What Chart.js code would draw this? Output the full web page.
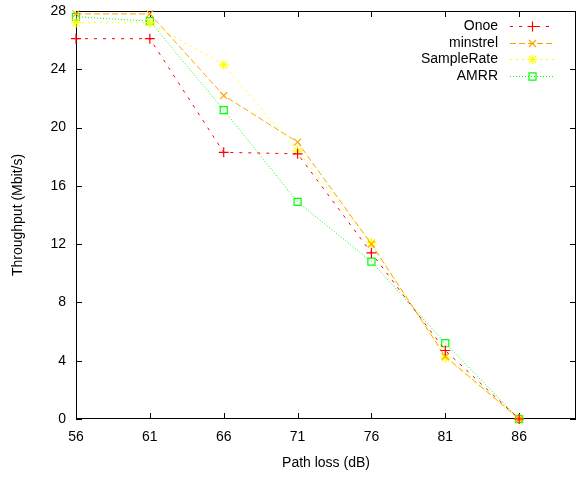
<!DOCTYPE html>
<html>
<head>
<meta charset="utf-8">
<script src="https://cdn.jsdelivr.net/npm/chart.js@4"></script>
<style>
  html, body { margin: 0; padding: 0; background: #fff; }
  #wrap { width: 576px; height: 477px; }
</style>
</head>
<body>
<div id="wrap"><canvas id="chart" width="576" height="477"></canvas></div>
<script>
// Data
const pathLoss = [56, 61, 66, 71, 76, 81, 86];
const xTicks = [56, 61, 66, 71, 76, 81, 86];
const yTicks = [0, 4, 8, 12, 16, 20, 24, 28];
const onoe = [26.1, 26.1, 18.3, 18.2, 11.4, 4.7, 0];
const minstrel = [27.8, 27.8, 22.2, 19.0, 12.0, 4.3, 0];
const sampleRate = [27.2, 27.2, 24.3, 18.4, 12.1, 4.2, 0];
const amrr = [27.6, 27.3, 21.2, 14.9, 10.8, 5.2, 0];

const seriesNames = ['Onoe', 'minstrel', 'SampleRate', 'AMRR'];
const seriesColors = ['#ff0000', '#ffa500', '#ffff00', '#00ff00'];
const seriesDashes = [[3, 6], [6, 3], [2, 4], [1, 2]];
const seriesMarkers = ['cross', 'crossRot', 'star', 'rect'];

const FONT = '"Liberation Sans", Arial, sans-serif';

function toPoints(values) {
    return pathLoss.map((x, i) => ({ x: x, y: values[i] }));
}

function series(i, values) {
    return {
        label: seriesNames[i],
        data: toPoints(values),
        borderColor: seriesColors[i],
        backgroundColor: 'rgba(0,0,0,0)',
        borderWidth: 1,
        borderDash: seriesDashes[i],
        pointStyle: seriesMarkers[i],
        pointRadius: 5,
        pointBorderWidth: 1.2,
        pointBorderColor: seriesColors[i],
        pointBackgroundColor: 'rgba(0,0,0,0)',
        tension: 0,
        fill: false,
        clip: false
    };
}

const datasets = [
    series(0, onoe),
    series(1, minstrel),
    series(2, sampleRate),
    series(3, amrr)
];

// Border box with inward ticks on all four sides, like gnuplot
const frame = {
    id: 'frame',
    beforeDatasetsDraw(chart) {
        const ctx = chart.ctx;
        const a = chart.chartArea;
        const xs = chart.scales.x, ys = chart.scales.y;
        const len = 6;
        ctx.save();
        ctx.strokeStyle = '#000';
        ctx.lineWidth = 1;
        ctx.strokeRect(a.left + 0.5, a.top + 0.5, a.right - a.left - 1, a.bottom - a.top - 1);
        ctx.beginPath();
        xTicks.forEach(v => {
            const px = Math.round(xs.getPixelForValue(v)) + 0.5;
            ctx.moveTo(px, a.bottom); ctx.lineTo(px, a.bottom - len);
            ctx.moveTo(px, a.top); ctx.lineTo(px, a.top + len);
        });
        yTicks.forEach(v => {
            const py = Math.round(ys.getPixelForValue(v)) + 0.5;
            ctx.moveTo(a.left, py); ctx.lineTo(a.left + len, py);
            ctx.moveTo(a.right, py); ctx.lineTo(a.right - len, py);
        });
        ctx.stroke();
        ctx.restore();
    },
    afterDraw(chart) {
        // legend inside the top-right corner: text, then line sample with marker
        const ctx = chart.ctx;
        const a = chart.chartArea;
        const textRight = a.right - 78;
        const x0 = a.right - 66, x1 = a.right - 21;
        ctx.save();
        ctx.font = '14px ' + FONT;
        ctx.textAlign = 'right';
        ctx.textBaseline = 'middle';
        seriesNames.forEach((name, i) => {
            const y = Math.round(a.top + 15 + i * 16.7) + 0.5;
            ctx.fillStyle = '#000';
            ctx.fillText(name, textRight, y);
            ctx.strokeStyle = seriesColors[i];
            ctx.lineWidth = 1;
            ctx.setLineDash(seriesDashes[i]);
            ctx.beginPath();
            ctx.moveTo(x0, y);
            ctx.lineTo(x1, y);
            ctx.stroke();
            ctx.setLineDash([]);
            ctx.strokeStyle = seriesColors[i];
            ctx.fillStyle = 'rgba(0,0,0,0)';
            ctx.lineWidth = 1.2;
            Chart.helpers.drawPoint(ctx, {
                pointStyle: seriesMarkers[i],
                radius: 5,
                borderWidth: 1.2,
                rotation: 0
            }, (x0 + x1) / 2, y);
        });
        ctx.restore();
    }
};

new Chart(document.getElementById('chart'), {
    type: 'line',
    data: { datasets: datasets },
    options: {
        responsive: false,
        animation: false,
        devicePixelRatio: 1,
        layout: { autoPadding: false, padding: { top: 11, right: 0, left: 0, bottom: 0 } },
        plugins: {
            legend: { display: false },
            tooltip: { enabled: false }
        },
        scales: {
            x: {
                type: 'linear',
                min: 56,
                max: 89.85,
                afterBuildTicks: axis => { axis.ticks = xTicks.map(v => ({ value: v })); },
                afterFit: axis => {
                    axis.height = 58;
                    axis.paddingLeft = 0;
                    axis.paddingRight = 0;
                },
                grid: { display: false, drawTicks: false },
                border: { display: false },
                ticks: { color: '#000', font: { family: FONT, size: 14 }, padding: 10, maxRotation: 0 },
                title: {
                    display: true,
                    text: 'Path loss (dB)',
                    color: '#000',
                    font: { family: FONT, size: 14 },
                    padding: { top: 4, bottom: 5 }
                }
            },
            y: {
                min: 0,
                max: 28,
                afterBuildTicks: axis => { axis.ticks = yTicks.map(v => ({ value: v })); },
                afterFit: axis => {
                    axis.width = 76;
                    axis.paddingTop = 0;
                    axis.paddingBottom = 0;
                },
                grid: { display: false, drawTicks: false },
                border: { display: false },
                ticks: { color: '#000', font: { family: FONT, size: 14 }, padding: 10 },
                title: {
                    display: true,
                    text: 'Throughput (Mbit/s)',
                    color: '#000',
                    font: { family: FONT, size: 14 },
                    padding: { top: 10, bottom: 0 }
                }
            }
        }
    },
    plugins: [frame]
});
</script>
</body>
</html>
